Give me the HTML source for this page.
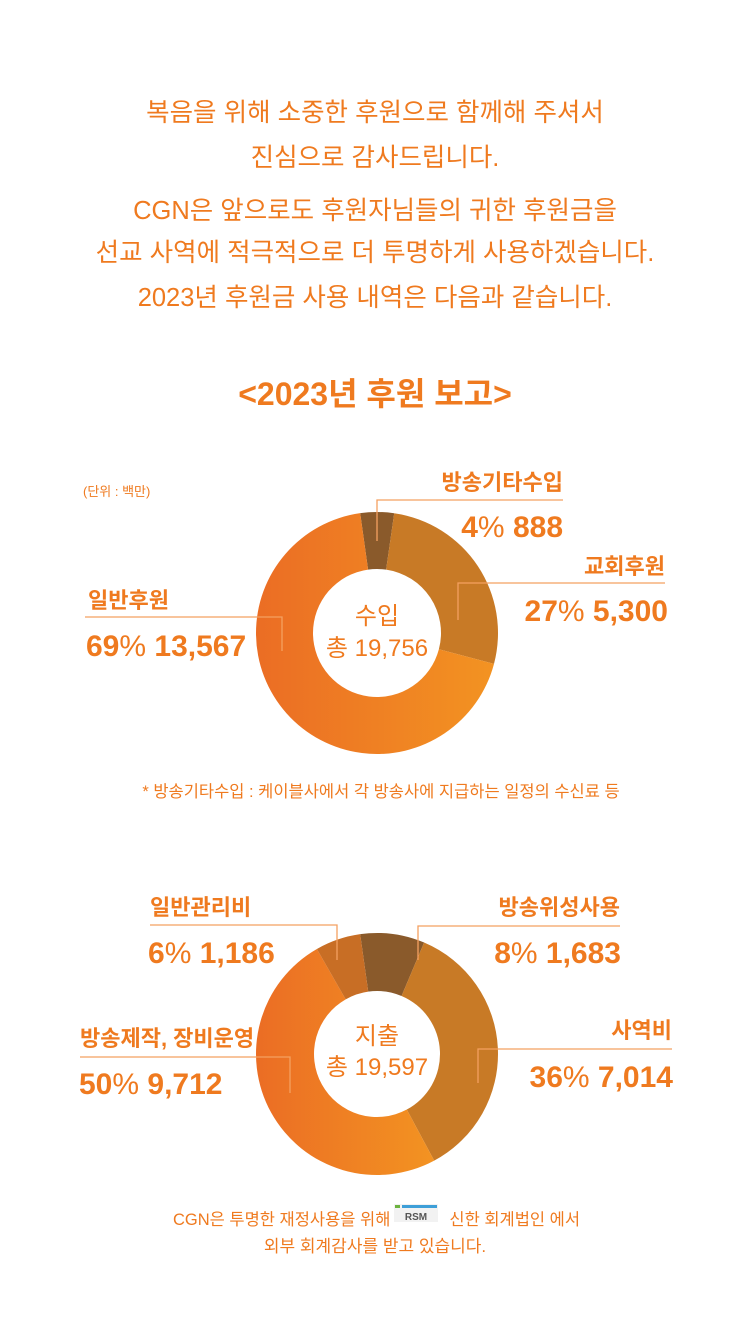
<!DOCTYPE html>
<html><head><meta charset="utf-8"><style>
body{margin:0;background:#fff;}
svg{display:block;font-family:"Liberation Sans","Noto Sans CJK KR",sans-serif;}
</style></head><body>
<svg id="s" width="750" height="1334" viewBox="0 0 750 1334">
<defs>
<linearGradient id="g" x1="0" x2="1" y1="0" y2="0"><stop offset="0" stop-color="#eb6d24"/><stop offset="1" stop-color="#f39322"/></linearGradient>
</defs>
<g fill="#ef7a1f" font-size="25.5" text-anchor="middle">
<text x="375" y="121">복음을 위해 소중한 후원으로 함께해 주셔서</text>
<text x="375" y="166">진심으로 감사드립니다.</text>
<text x="375" y="219">CGN은 앞으로도 후원자님들의 귀한 후원금을</text>
<text x="375" y="261">선교 사역에 적극적으로 더 투명하게 사용하겠습니다.</text>
<text x="375" y="306">2023년 후원금 사용 내역은 다음과 같습니다.</text>
</g>
<text x="375" y="405" fill="#ef7a1f" font-size="32" font-weight="bold" text-anchor="middle">&lt;2023년 후원 보고&gt;</text>
<text x="83" y="496" fill="#ef7a1f" font-size="13">(단위 : 백만)</text>
<g id="c1"></g>
<g id="c2"></g>
<g stroke="#f4a060" stroke-width="1.3" fill="none">
<polyline points="377,541 377,500 563,500"/>
<polyline points="458,620 458,583 665,583"/>
<polyline points="282,651 282,617 85,617"/>
<polyline points="337,960 337,925 150,925"/>
<polyline points="418,960 418,926 620,926"/>
<polyline points="478,1083 478,1049 672,1049"/>
<polyline points="290,1093 290,1057 80,1057"/>
</g>
<g fill="#ef7a1f">
<text x="563" y="490" font-size="22" font-weight="bold" text-anchor="end">방송기타수입</text>
<text x="563" y="537" font-size="30" font-weight="bold" text-anchor="end">4<tspan font-weight="normal">%</tspan> 888</text>
<text x="665" y="574" font-size="22" font-weight="bold" text-anchor="end">교회후원</text>
<text x="668" y="621" font-size="30" font-weight="bold" text-anchor="end">27<tspan font-weight="normal">%</tspan> 5,300</text>
<text x="88" y="608" font-size="22" font-weight="bold">일반후원</text>
<text x="86" y="656" font-size="30" font-weight="bold">69<tspan font-weight="normal">%</tspan> 13,567</text>
<text x="377" y="624" font-size="24" text-anchor="middle">수입</text>
<text x="377" y="656" font-size="24" text-anchor="middle">총 19,756</text>
<text x="381" y="797" font-size="16.5" text-anchor="middle">* 방송기타수입 :  케이블사에서 각 방송사에 지급하는 일정의 수신료 등</text>
<text x="150" y="915" font-size="22" font-weight="bold">일반관리비</text>
<text x="148" y="963" font-size="30" font-weight="bold">6<tspan font-weight="normal">%</tspan> 1,186</text>
<text x="620" y="915" font-size="22" font-weight="bold" text-anchor="end">방송위성사용</text>
<text x="621" y="963" font-size="30" font-weight="bold" text-anchor="end">8<tspan font-weight="normal">%</tspan> 1,683</text>
<text x="672" y="1038" font-size="22" font-weight="bold" text-anchor="end">사역비</text>
<text x="673" y="1087" font-size="30" font-weight="bold" text-anchor="end">36<tspan font-weight="normal">%</tspan> 7,014</text>
<text x="80" y="1046" font-size="22" font-weight="bold">방송제작, 장비운영</text>
<text x="79" y="1094" font-size="30" font-weight="bold">50<tspan font-weight="normal">%</tspan> 9,712</text>
<text x="377" y="1044" font-size="24" text-anchor="middle">지출</text>
<text x="377" y="1075" font-size="24" text-anchor="middle">총 19,597</text>
<text x="173" y="1225" font-size="16.5">CGN은 투명한 재정사용을 위해</text>
<text x="580" y="1225" font-size="16.5" text-anchor="end">신한 회계법인 에서</text>
<text x="375" y="1252" font-size="17" text-anchor="middle">외부 회계감사를 받고 있습니다.</text>
</g>
<g>
<rect x="394" y="1204" width="44" height="18" fill="#f2f2f2"/>
<rect x="395" y="1205" width="5" height="3" fill="#6cb33f"/>
<rect x="402" y="1205" width="35" height="3" fill="#3e9fd8"/>
<text x="416" y="1220" font-size="10" font-weight="bold" fill="#555" text-anchor="middle">RSM</text>
</g>
</svg>
<script>
const incomeCats=['방송기타수입','교회후원','일반후원'];
const incomeVals=[888,5300,13567];
const expenseCats=['방송위성사용','사역비','방송제작','일반관리비'];
const expenseVals=[1683,7014,9712,1186];
const incomeColors=['#8a5a2b','#c87a26','url(#g)'];
const expenseColors=['#8a5a2b','#c87a26','url(#g)','#c86e25'];
const NS='http://www.w3.org/2000/svg';
function pt(cx,cy,r,a){const t=(a-90)*Math.PI/180;return [cx+r*Math.cos(t),cy+r*Math.sin(t)];}
function donut(gid,vals,cats,cols,cx,cy,R,r,start){
  const g=document.getElementById(gid);const tot=vals.reduce((a,b)=>a+b,0);let a=start;
  vals.forEach((v,i)=>{const b=a+v/tot*360;const L=(b-a)>180?1:0;
    const p1=pt(cx,cy,R,a),p2=pt(cx,cy,R,b),p3=pt(cx,cy,r,b),p4=pt(cx,cy,r,a);
    const p=document.createElementNS(NS,'path');
    p.setAttribute('d',`M${p1}A${R},${R} 0 ${L} 1 ${p2}L${p3}A${r},${r} 0 ${L} 0 ${p4}Z`);
    p.setAttribute('fill',cols[i]);
    
    
    g.appendChild(p);a=b;});
}
donut('c1',incomeVals,incomeCats,incomeColors,377,633,121,64,-8);
donut('c2',expenseVals,expenseCats,expenseColors,377,1054,121,63,-8);
</script>
</body></html>
